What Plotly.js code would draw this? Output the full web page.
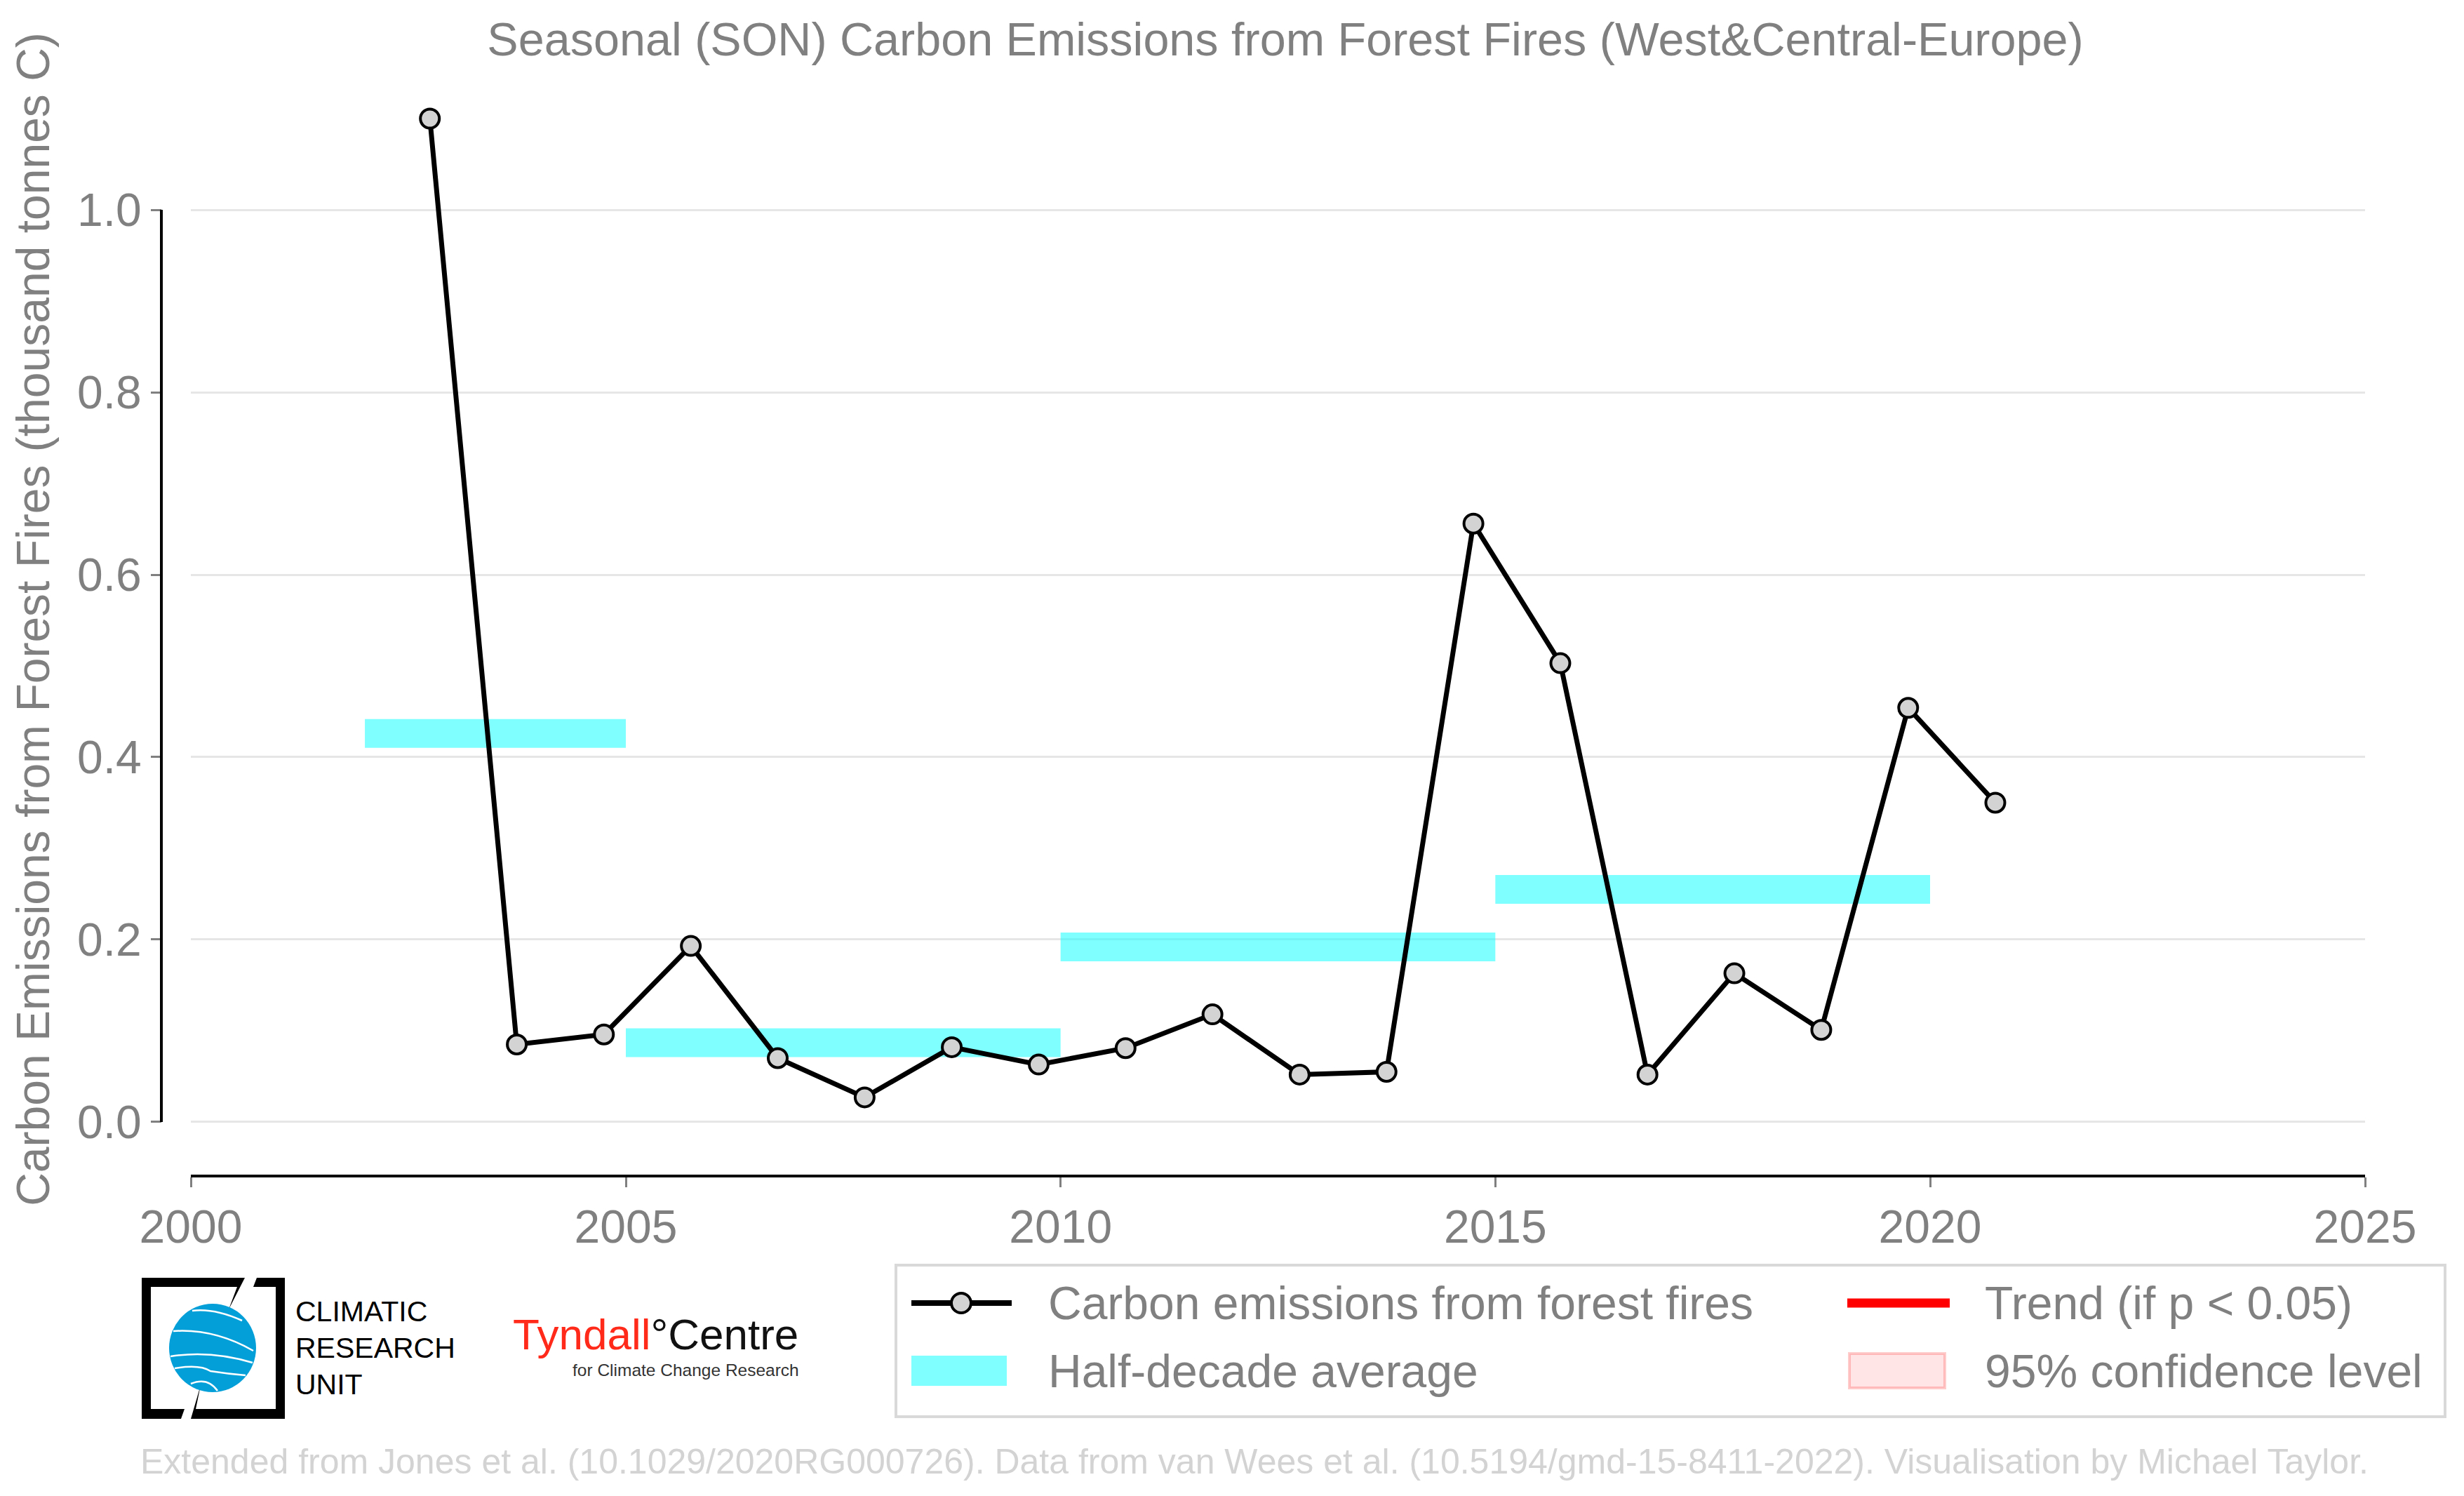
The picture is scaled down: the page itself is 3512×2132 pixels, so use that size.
<!DOCTYPE html>
<html>
<head>
<meta charset="utf-8">
<script src="https://cdn.plot.ly/plotly-3.0.1.min.js"></script>
<style>
  html, body { margin: 0; padding: 0; background: #fff; }
  #chart { width: 3512px; height: 2132px; }
</style>
</head>
<body>
<div id="chart"></div>
<script>
  // SON seasons, plotted at the start of October of each year
  const years = [2002, 2003, 2004, 2005, 2006, 2007, 2008, 2009, 2010, 2011,
    2012, 2013, 2014, 2015, 2016, 2017, 2018, 2019, 2020];
  const emissions = [1.100, 0.085, 0.096, 0.193, 0.070, 0.027, 0.082, 0.063, 0.081, 0.118,
    0.052, 0.055, 0.656, 0.503, 0.052, 0.163, 0.101, 0.454, 0.350];

  const halfStart = ["2002-01-01", "2005-01-01", "2010-01-01", "2015-01-01"];
  const halfEnd = ["2005-01-01", "2010-01-01", "2015-01-01", "2020-01-01"];
  const halfMean = [0.426, 0.087, 0.192, 0.255];

  const yTicks = [0, 0.2, 0.4, 0.6, 0.8, 1.0];
  const xTicks = ["2000-01-01", "2005-01-01", "2010-01-01", "2015-01-01", "2020-01-01", "2025-01-01"];
  const xTickText = ["2000", "2005", "2010", "2015", "2020", "2025"];

  const FONT = "Liberation Sans, Arial, sans-serif";
  const GREY = "#808080";
  const CYAN = "rgba(0,255,255,0.5)";

  // page pixel -> paper coordinates (margins l=230, t=91, plot 3141 x 1583)
  const M = { l: 230, r: 141, t: 91, b: 458 };
  const PW = 3512 - M.l - M.r;
  const PH = 2132 - M.t - M.b;
  const px = (x) => (x - M.l) / PW;
  const py = (y) => (2132 - M.b - y) / PH;
  const pt = (x, y) => `${px(x)},${py(y)}`;

  // half-decade bars as one broken line trace
  const halfX = [];
  const halfY = [];
  halfStart.forEach((s, i) => {
    halfX.push(s, halfEnd[i], null);
    halfY.push(halfMean[i], halfMean[i], null);
  });

  const traces = [
    {
      x: halfX, y: halfY, type: "scatter", mode: "lines",
      line: { color: CYAN, width: 41 }, connectgaps: false,
      hoverinfo: "skip", showlegend: false,
    },
    {
      x: years.map((y) => `${y}-10-01`), y: emissions, type: "scatter", mode: "lines+markers",
      line: { color: "#000", width: 7 },
      marker: { size: 27, color: "#d3d3d3", line: { color: "#000", width: 4 } },
      showlegend: false,
    },
  ];

  const shapes = [
    // offset y spine (0 to 1 only)
    { type: "line", xref: "paper", yref: "y", x0: 0, x1: 0, y0: 0, y1: 1, line: { color: "#000", width: 4 } },
    // legend box
    { type: "rect", xref: "paper", yref: "paper", x0: px(1277), x1: px(3485), y0: py(2019), y1: py(1803),
      line: { color: "#d9d9d9", width: 4 }, fillcolor: "#fff", layer: "below" },
    { type: "line", xref: "paper", yref: "paper", x0: px(1299), x1: px(1442), y0: py(1857), y1: py(1857),
      line: { color: "#000", width: 8 } },
    { type: "circle", xref: "paper", yref: "paper", x0: px(1356), x1: px(1384), y0: py(1871), y1: py(1843),
      fillcolor: "#d3d3d3", line: { color: "#000", width: 4 } },
    { type: "rect", xref: "paper", yref: "paper", x0: px(1299), x1: px(1435), y0: py(1975), y1: py(1932),
      fillcolor: CYAN, line: { width: 0 } },
    { type: "line", xref: "paper", yref: "paper", x0: px(2633), x1: px(2779), y0: py(1857), y1: py(1857),
      line: { color: "#ff0000", width: 13 } },
    { type: "rect", xref: "paper", yref: "paper", x0: px(2636), x1: px(2772), y0: py(1978), y1: py(1929),
      fillcolor: "rgba(255,0,0,0.1)", line: { color: "rgba(255,0,0,0.2)", width: 4 } },
    // CRU logo frame
    { type: "path", xref: "paper", yref: "paper", fillcolor: "#000", line: { width: 0 },
      path: `M${pt(202, 1821)}L${pt(349, 1821)}L${pt(326, 1866)}L${pt(338, 1834)}L${pt(215, 1834)}L${pt(215, 2008)}L${pt(263, 2008)}L${pt(258, 2022)}L${pt(202, 2022)}Z` },
    { type: "path", xref: "paper", yref: "paper", fillcolor: "#000", line: { width: 0 },
      path: `M${pt(366, 1821)}L${pt(406, 1821)}L${pt(406, 2022)}L${pt(272, 2022)}L${pt(286, 1974)}L${pt(279, 2008)}L${pt(393, 2008)}L${pt(393, 1834)}L${pt(361, 1834)}Z` },
    { type: "circle", xref: "paper", yref: "paper", x0: px(241), x1: px(365), y0: py(1984), y1: py(1858),
      fillcolor: "#039fd9", line: { width: 0 } },
  ];
  const globeLines = [
    `M${pt(274, 1868)}Q${pt(305, 1864)} ${pt(345, 1882)}`,
    `M${pt(247, 1897)}Q${pt(305, 1893)} ${pt(361, 1925)}`,
    `M${pt(243, 1933)}Q${pt(300, 1924)} ${pt(360, 1942)}`,
    `M${pt(249, 1950)}Q${pt(285, 1944)} ${pt(300, 1954)}Q${pt(325, 1958)} ${pt(350, 1960)}`,
    `M${pt(272, 1972)}Q${pt(296, 1962)} ${pt(310, 1982)}`,
  ];
  globeLines.forEach((p) => shapes.push({ type: "path", xref: "paper", yref: "paper", path: p,
    line: { color: "#fff", width: 2.5 } }));

  const note = (x, y, text, size, color, anchor) => ({
    xref: "paper", yref: "paper", x: px(x), y: py(y), text, showarrow: false,
    xanchor: anchor || "left", yanchor: "middle", font: { family: FONT, size, color },
  });

  const annotations = [
    note(1492, 1857, "Carbon emissions from forest fires", 66, GREY),
    note(1492, 1954, "Half-decade average", 66, GREY),
    note(2827, 1857, "Trend (if p &lt; 0.05)", 66, GREY),
    note(2827, 1954, "95% confidence level", 66, GREY),
    note(419, 1869, "CLIMATIC", 41, "#000"),
    note(419, 1921, "RESEARCH", 41, "#000"),
    note(419, 1973, "UNIT", 41, "#000"),
    note(729, 1902, '<span style="color:#ff2a1a">Tyndall</span>°Centre', 62, "#111"),
    note(1141, 1952, "for Climate Change Research", 24.5, "#333", "right"),
    note(3378, 2083, "Extended from Jones et al. (10.1029/2020RG000726). Data from van Wees et al. (10.5194/gmd-15-8411-2022). Visualisation by Michael Taylor.", 50, "#d3d3d3", "right"),
  ];

  const layout = {
    width: 3512, height: 2132,
    margin: M,
    paper_bgcolor: "#fff", plot_bgcolor: "#fff",
    font: { family: FONT, color: GREY, size: 66 },
    showlegend: false,
    title: {
      text: "Seasonal (SON) Carbon Emissions from Forest Fires (West&amp;Central-Europe)",
      x: 1832 / 3512, xanchor: "center", y: 1 - 56 / 2132, yanchor: "middle",
      font: { family: FONT, size: 66.5, color: GREY },
    },
    xaxis: {
      type: "date", domain: [px(272), 1], range: ["2000-01-01", "2025-01-01"],
      tickvals: xTicks, ticktext: xTickText,
      showgrid: false, zeroline: false, showline: true, linecolor: "#000", linewidth: 4,
      ticks: "outside", ticklen: 14, tickwidth: 3, tickcolor: GREY,
      tickfont: { family: FONT, size: 66, color: GREY }, automargin: false,
    },
    yaxis: {
      anchor: "free", position: 0, range: [-0.0577, 1.16],
      tickvals: yTicks, tickformat: ".1f",
      showgrid: true, gridcolor: "#e6e6e6", gridwidth: 3, zeroline: false, showline: false,
      ticks: "outside", ticklen: 15, tickwidth: 3, tickcolor: GREY,
      tickfont: { family: FONT, size: 66, color: GREY }, automargin: false,
      title: { text: "Carbon Emissions from Forest Fires (thousand tonnes C)", standoff: 16,
        font: { family: FONT, size: 66, color: GREY } },
    },
    shapes, annotations,
  };

  Plotly.newPlot("chart", traces, layout, { displayModeBar: false, responsive: false });
</script>
</body>
</html>
